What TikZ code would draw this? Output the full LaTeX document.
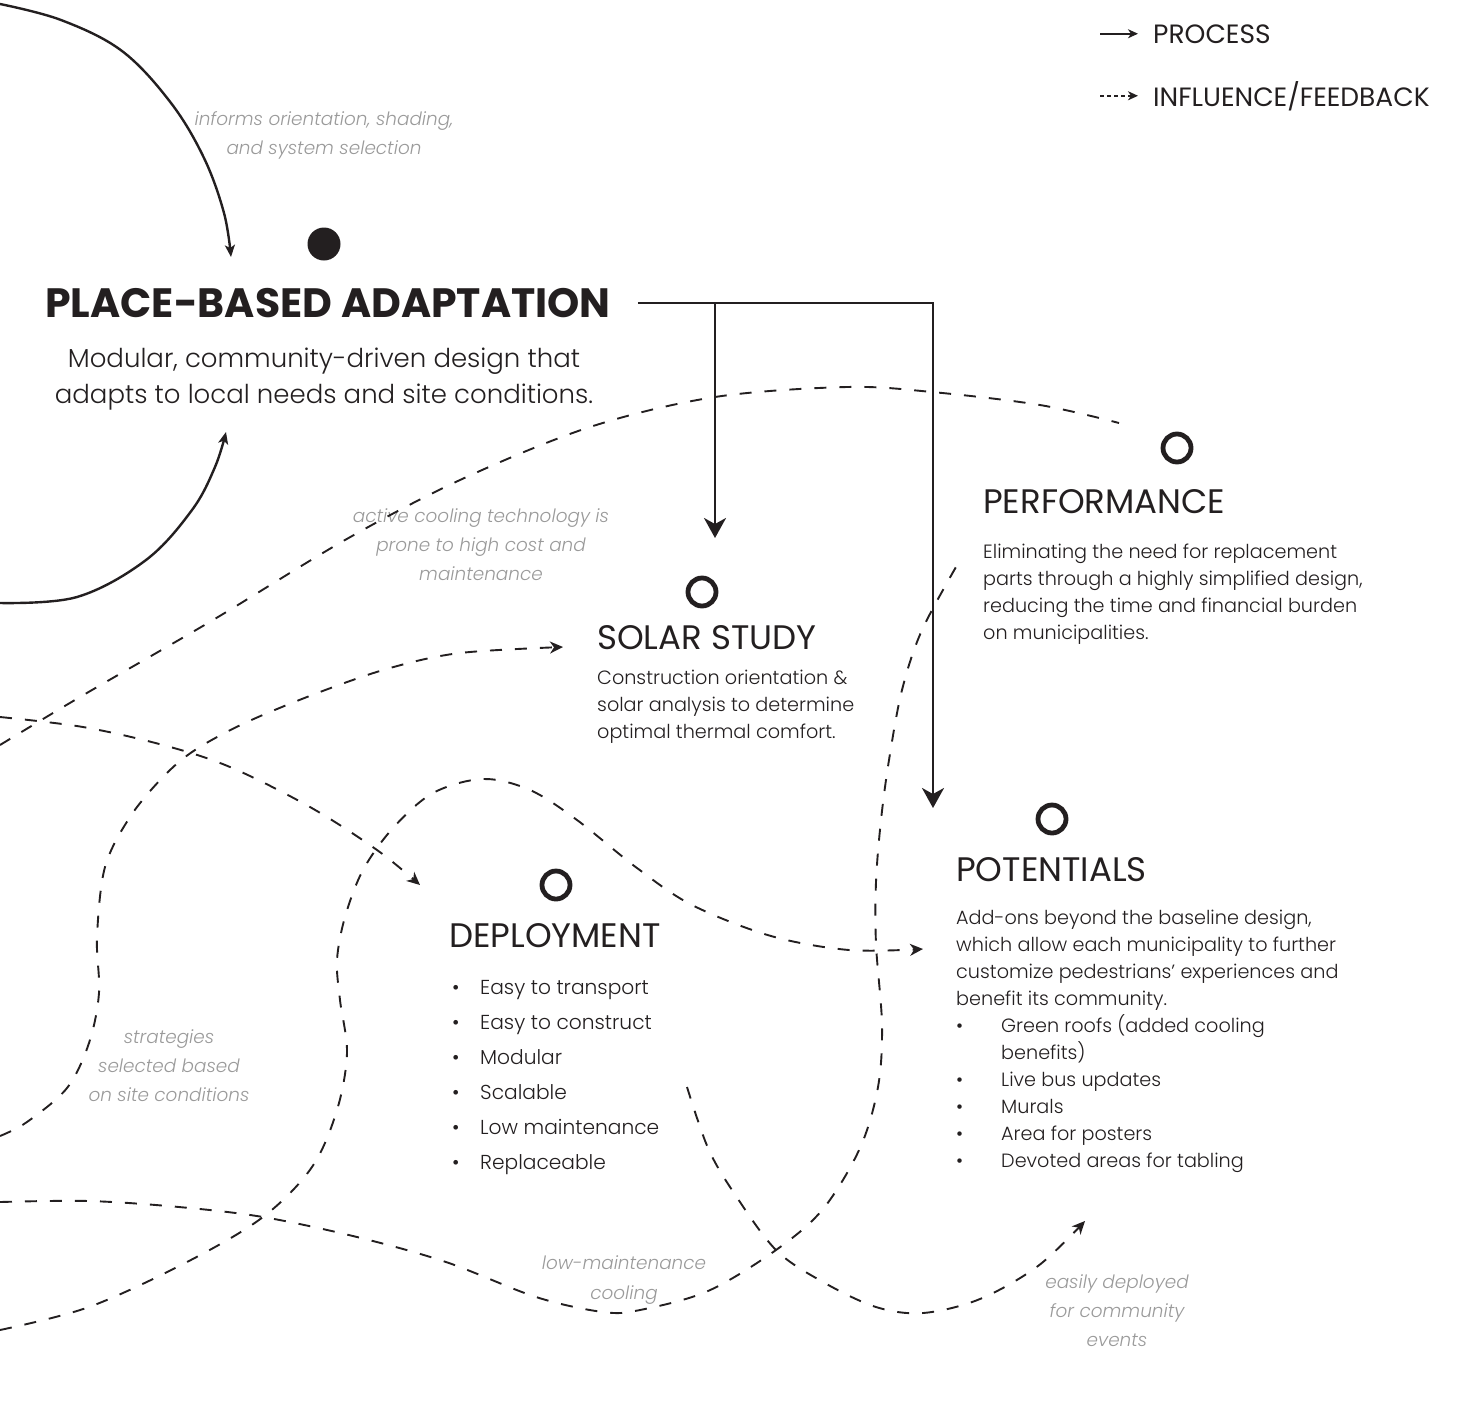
\documentclass[tikz,border=0pt]{standalone}
\usepackage{fontspec}
\setmainfont{Poppins}[UprightFont={* Light}, ItalicFont={* Light Italic}, BoldFont={* Bold}]
\newfontfamily\headfont{Poppins}
\usetikzlibrary{arrows.meta}

\definecolor{ink}{HTML}{231F20}
\definecolor{notegray}{HTML}{9A9A9A}

\newcommand{\bulletitem}[2]{\makebox[#1][l]{\textbullet}#2}

\tikzset{
  process/.style={draw=ink, line width=2.7pt, -{Stealth[length=20pt,width=22pt,inset=6pt]}},
  feedback/.style={draw=ink, line width=1.9pt, dash pattern=on 12pt off 13pt, -{Stealth[length=13pt,width=12pt,inset=4pt]}},
  feedbackline/.style={draw=ink, line width=1.9pt, dash pattern=on 12pt off 13pt},
  loopline/.style={draw=ink, line width=2.4pt, -{Stealth[length=12pt,width=10pt,inset=3pt]}},
  stage/.style={circle, draw=ink, line width=4.8pt, minimum size=28pt, inner sep=0pt},
  heading/.style={anchor=base west, inner sep=0pt, text=ink, font=\headfont\fontsize{34}{40}\selectfont},
  body/.style={anchor=base west, inner sep=0pt, align=left, text=ink, font=\fontsize{19.2}{27}\selectfont},
  note/.style={anchor=base, inner sep=0pt, align=center, text=notegray, font=\itshape\fontsize{18.4}{29}\selectfont},
  legend/.style={anchor=base west, inner sep=0pt, text=ink, font=\headfont\fontsize{26.5}{30}\selectfont}
}

\begin{document}
\begin{tikzpicture}[x=1pt, y=-1pt]
\useasboundingbox (0,0) rectangle (1461,1406);

% legend
\node[legend] (lgProcess) at (1153,43) {PROCESS};
\node[legend] (lgFeedback) at (1153,106) {INFLUENCE/FEEDBACK};
\draw[draw=ink, line width=1.8pt, -{Stealth[length=10pt,width=9pt,inset=3pt]}] ([xshift=-53pt]lgProcess.west) -- ([xshift=-15pt]lgProcess.west);
\draw[draw=ink, line width=1.6pt, dash pattern=on 4pt off 3pt, -{Stealth[length=10pt,width=9pt,inset=3pt]}] ([xshift=-53pt]lgFeedback.west) -- ([xshift=-15pt]lgFeedback.west);

% main idea
\node[circle, fill=ink, minimum size=33pt, inner sep=0pt] (hub) at (324,244) {};
\node[text=ink, inner xsep=27pt, inner ysep=0pt, font=\bfseries\fontsize{41}{48}\selectfont] (title) at (328,303) {PLACE-BASED ADAPTATION};
\node[anchor=base, inner sep=0pt, align=center, text=ink, font=\fontsize{26}{36}\selectfont] (desc) at (324,403) {Modular, community-driven design that\\adapts to local needs and site conditions.};

% stages (text nodes sit on the baseline of their last line)
\node[stage] (perfDot) at (1177,448) {};
\node[heading] (perf) at (983,513) {PERFORMANCE};
\node[body] (perfText) at (983,639) {Eliminating the need for replacement\\parts through a highly simplified design,\\reducing the time and financial burden\\on municipalities.};

\node[stage] (solarDot) at (702,592) {};
\node[heading] (solar) at (597,649) {SOLAR STUDY};
\node[body] (solarText) at (597,738) {Construction orientation \&\\solar analysis to determine\\optimal thermal comfort.};

\node[stage] (potDot) at (1052,819) {};
\node[heading] (pot) at (956,881) {POTENTIALS};
\node[body] (potText) at (956,1167) {Add-ons beyond the baseline design,\\which allow each municipality to further\\customize pedestrians’ experiences and\\benefit its community.\\
  \bulletitem{45pt}{Green roofs (added cooling}\\\hspace*{45pt}benefits)\\\bulletitem{45pt}{Live bus updates}\\
  \bulletitem{45pt}{Murals}\\\bulletitem{45pt}{Area for posters}\\\bulletitem{45pt}{Devoted areas for tabling}};

\node[stage] (deployDot) at (556,885) {};
\node[heading] (deploy) at (449,947) {DEPLOYMENT};
\node[body, font=\fontsize{20.2}{35}\selectfont] (deployText) at (452,1169) {\bulletitem{28pt}{Easy to transport}\\\bulletitem{28pt}{Easy to construct}\\
  \bulletitem{28pt}{Modular}\\\bulletitem{28pt}{Scalable}\\\bulletitem{28pt}{Low maintenance}\\\bulletitem{28pt}{Replaceable}};

% notes
\node[note] (noteInforms) at (324,154) {informs orientation, shading,\\and system selection};
\node[note] (noteActive) at (481,580) {active cooling technology is\\prone to high cost and\\maintenance};
\node[note] (noteStrategies) at (169,1101) {strategies\\selected based\\on site conditions};
\node[note, font=\itshape\fontsize{18.4}{30}\selectfont] (noteLowMaint) at (624,1299) {low-maintenance\\cooling};
\node[note] (noteEasily) at (1117,1346) {easily deployed\\for community\\events};

% process arrows
\coordinate (split) at (715,303);
\coordinate (solarIn) at (715,538);
\coordinate (potIn) at (933,808);
\draw[process] (title.east) -| (potIn);
\draw[process] (split) -- (solarIn);

% loop arrows into the main idea
\coordinate (loopTop) at (0,4);
\coordinate (loopTopEnd) at (231,257);
\coordinate (loopBottom) at (0,603);
\coordinate (loopBottomEnd) at (226,432);
\draw[loopline] plot[smooth, tension=0.6] coordinates {(loopTop) (61,20) (122,51) (171,103) (204,158) (224,213) (loopTopEnd)};
\draw[loopline] plot[smooth, tension=0.6] coordinates {(loopBottom) (77,597) (146,560) (192,510) (215,467) (loopBottomEnd)};

% influence / feedback
\coordinate (aStart) at (0,745);
\coordinate (aEnd) at (1119,423);
\draw[feedbackline] plot[smooth, tension=0.55] coordinates {(aStart) (80,697) (213,620) (345,540) (460,480) (590,427) (715,397) (847,387) (932,392) (1040,405) (aEnd)};

\coordinate (bStart) at (0,717);
\coordinate (bEnd) at (420,885);
\draw[feedback] plot[smooth, tension=0.55] coordinates {(bStart) (83,727) (163,745) (230,767) (310,807) (377,850) (bEnd)};

\coordinate (cStart) at (0,1136);
\coordinate (cEnd) at (563,647);
\draw[feedback] plot[smooth, tension=0.55] coordinates {(cStart) (27,1122) (67,1088) (89,1043) (99,993) (97,937) (105,867) (130,817) (163,777) (195,750) (247,722) (320,692) (390,668) (460,653) (cEnd)};

\coordinate (dStart) at (0,1330);
\coordinate (dEnd) at (923,949);
\draw[feedback] plot[smooth, tension=0.55] coordinates {(dStart) (89,1307) (187,1262) (263,1217) (312,1167) (337,1110) (347,1053) (340,1000) (337,960) (345,917) (363,870) (393,828) (433,793) (483,779) (530,790) (577,820) (637,868) (692,905) (771,936) (849,950) (dEnd)};

\coordinate (eStart) at (0,1202);
\coordinate (eEnd) at (960,560);
\draw[feedbackline] plot[smooth, tension=0.55] coordinates {(eStart) (89,1201) (179,1207) (263,1217) (357,1237) (446,1262) (536,1297) (603,1312) (640,1310) (708,1291) (776,1250) (823,1209) (860,1148) (878,1087) (882,1025) (876,944) (876,882) (881,820) (889,760) (902,690) (922,630) (eEnd)};

\coordinate (fStart) at (687,1087);
\coordinate (fEnd) at (1085,1221);
\draw[feedback] plot[smooth, tension=0.55] coordinates {(fStart) (708,1148) (734,1193) (776,1250) (823,1282) (876,1307) (923,1313) (980,1299) (1038,1266) (fEnd)};

\end{tikzpicture}
\end{document}
